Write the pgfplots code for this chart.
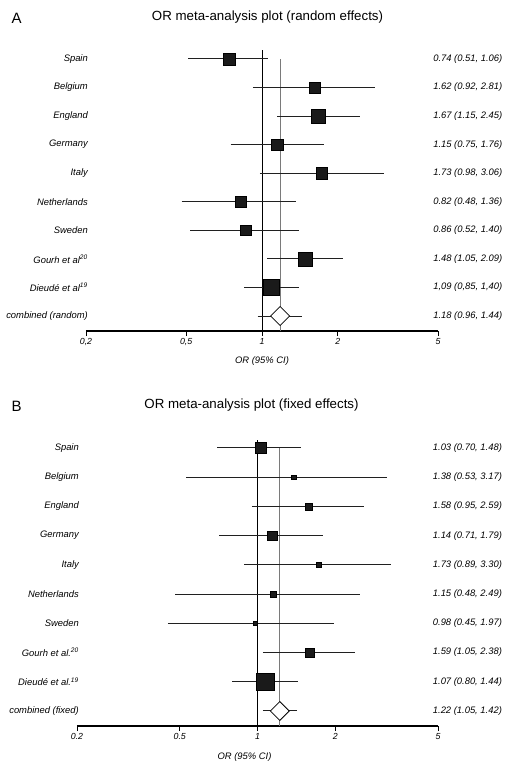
\documentclass[border=0pt]{standalone}
\usepackage{pgfplots}
\pgfplotsset{compat=1.18}
\usepackage{pgfplotstable}
\usepackage{fontspec}
\setmainfont{Liberation Sans}
\definecolor{sq}{HTML}{1A1A1A}
\definecolor{refgray}{HTML}{7A7A7A}
\definecolor{cil}{HTML}{202020}

\pgfplotstableread[col sep=semicolon]{
y;or;lo;hi;sz;left;right
10;0.74;0.51;1.06;6.2;Spain;0.74 (0.51, 1.06)
9;1.62;0.92;2.81;5.3;Belgium;1.62 (0.92, 2.81)
8;1.67;1.15;2.45;6.8;England;1.67 (1.15, 2.45)
7;1.15;0.75;1.76;5.9;Germany;1.15 (0.75, 1.76)
6;1.73;0.98;3.06;5.6;Italy;1.73 (0.98, 3.06)
5;0.82;0.48;1.36;5.5;Netherlands;0.82 (0.48, 1.36)
4;0.86;0.52;1.40;5.3;Sweden;0.86 (0.52, 1.40)
3;1.48;1.05;2.09;7.0;Gourh et al\textsuperscript{20};1.48 (1.05, 2.09)
2;1.09;0.85;1.40;8.2;Dieudé et al\textsuperscript{19};1,09 (0,85, 1,40)
1;1.18;0.96;1.44;6.7;combined (random);1.18 (0.96, 1.44)
}\tabA

\pgfplotstableread[col sep=semicolon]{
y;or;lo;hi;sz;left;right
10;1.03;0.70;1.48;5.8;Spain;1.03 (0.70, 1.48)
9;1.38;0.53;3.17;2.4;Belgium;1.38 (0.53, 3.17)
8;1.58;0.95;2.59;3.6;England;1.58 (0.95, 2.59)
7;1.14;0.71;1.79;4.6;Germany;1.14 (0.71, 1.79)
6;1.73;0.89;3.30;2.7;Italy;1.73 (0.89, 3.30)
5;1.15;0.48;2.49;2.8;Netherlands;1.15 (0.48, 2.49)
4;0.98;0.45;1.97;2.4;Sweden;0.98 (0.45, 1.97)
3;1.59;1.05;2.38;4.5;Gourh et al.\textsuperscript{20};1.59 (1.05, 2.38)
2;1.07;0.80;1.44;8.8;Dieudé et al.\textsuperscript{19};1.07 (0.80, 1.44)
1;1.22;1.05;1.42;6.7;combined (fixed);1.22 (1.05, 1.42)
}\tabB

\newcommand{\lblfont}{\itshape\fontsize{9.4}{11}\selectfont}

\begin{document}
\begin{tikzpicture}
\path[use as bounding box] (0pt,0pt) rectangle (511pt,-773pt);

% ---------------- Panel A ----------------
\begin{axis}[at={(86pt,-331pt)}, anchor=south west,
  width=352pt, height=281pt, ymin=0.475, ymax=10.315,
  scale only axis, clip=false,
  xmode=log, xmin=0.2, xmax=5,
  axis x line*=bottom, axis y line=none,
  xtick={0.2,0.5,1,2,5}, minor xtick={},
  xtick align=outside, major tick length=5pt,
  every tick/.style={black, line width=0.9pt},
  x axis line style={line width=1.1pt, -},
  xticklabel style={font=\itshape\fontsize{8.8}{10}\selectfont, inner sep=2pt},
  xticklabels={{0,2},{0,5},1,2,5},
  xlabel={OR (95\% CI)},
  xlabel style={font=\lblfont, at={(axis description cs:0.5,0)}, anchor=center, yshift=-30pt},
  ytick=\empty]
\addplot[black, line width=1pt] coordinates {(1,0.475) (1,10.315)};
\addplot[refgray, line width=1pt] coordinates {(1.18,0.475) (1.18,10)};
\addplot[cil, line width=1pt] coordinates {(0.51,10) (1.06,10)};
\addplot[cil, line width=1pt] coordinates {(0.92,9) (2.81,9)};
\addplot[cil, line width=1pt] coordinates {(1.15,8) (2.45,8)};
\addplot[cil, line width=1pt] coordinates {(0.75,7) (1.76,7)};
\addplot[cil, line width=1pt] coordinates {(0.98,6) (3.06,6)};
\addplot[cil, line width=1pt] coordinates {(0.48,5) (1.36,5)};
\addplot[cil, line width=1pt] coordinates {(0.52,4) (1.40,4)};
\addplot[cil, line width=1pt] coordinates {(1.05,3) (2.09,3)};
\addplot[cil, line width=1pt] coordinates {(0.85,2) (1.40,2)};
\addplot[cil, line width=1pt] coordinates {(0.96,1) (1.44,1)};
\addplot[scatter, only marks, mark=square*, point meta=y,
    scatter/use mapped color={draw=none, fill=sq},
    visualization depends on={\thisrow{sz} \as \msz},
    scatter/@pre marker code/.append style={/tikz/mark size=\msz},
    skip coords between index={9}{10}] table[x=or, y=y] {\tabA};
\addplot[only marks, mark=square*, mark size=6.7pt,
  mark options={rotate=45, fill=white, draw=black, line width=0.8pt}] coordinates {(1.18,1)};
\addplot[draw=none, mark=none, nodes near coords, point meta=explicit symbolic,
    nodes near coords style={anchor=east, inner sep=0pt, xshift=2pt, font=\lblfont}]
    table[x expr=0.2, y=y, meta=left] {\tabA};
\addplot[draw=none, mark=none, nodes near coords, point meta=explicit symbolic,
    nodes near coords style={anchor=west, inner sep=0pt, font=\lblfont}]
    table[x expr=4.78, y=y, meta=right] {\tabA};
\end{axis}

% ---------------- Panel B ----------------
\begin{axis}[at={(77pt,-726pt)}, anchor=south west,
  width=361pt, height=286pt, ymin=0.486, ymax=10.27,
  scale only axis, clip=false,
  xmode=log, xmin=0.2, xmax=5,
  axis x line*=bottom, axis y line=none,
  xtick={0.2,0.5,1,2,5}, minor xtick={},
  xtick align=outside, major tick length=5pt,
  every tick/.style={black, line width=0.9pt},
  x axis line style={line width=1.1pt, -},
  xticklabel style={font=\itshape\fontsize{8.8}{10}\selectfont, inner sep=2pt},
  xticklabels={0.2,0.5,1,2,5},
  xlabel={OR (95\% CI)},
  xlabel style={font=\lblfont, at={(axis description cs:0.5,0)}, anchor=center, yshift=-31pt, xshift=-13pt},
  ytick=\empty]
\addplot[black, line width=1pt] coordinates {(1,0.486) (1,10.27)};
\addplot[refgray, line width=1pt] coordinates {(1.22,0.486) (1.22,10)};
\addplot[cil, line width=1pt] coordinates {(0.70,10) (1.48,10)};
\addplot[cil, line width=1pt] coordinates {(0.53,9) (3.17,9)};
\addplot[cil, line width=1pt] coordinates {(0.95,8) (2.59,8)};
\addplot[cil, line width=1pt] coordinates {(0.71,7) (1.79,7)};
\addplot[cil, line width=1pt] coordinates {(0.89,6) (3.30,6)};
\addplot[cil, line width=1pt] coordinates {(0.48,5) (2.49,5)};
\addplot[cil, line width=1pt] coordinates {(0.45,4) (1.97,4)};
\addplot[cil, line width=1pt] coordinates {(1.05,3) (2.38,3)};
\addplot[cil, line width=1pt] coordinates {(0.80,2) (1.44,2)};
\addplot[cil, line width=1pt] coordinates {(1.05,1) (1.42,1)};
\addplot[scatter, only marks, mark=square*, point meta=y,
    scatter/use mapped color={draw=none, fill=sq},
    visualization depends on={\thisrow{sz} \as \msz},
    scatter/@pre marker code/.append style={/tikz/mark size=\msz},
    skip coords between index={9}{10}] table[x=or, y=y] {\tabB};
\addplot[only marks, mark=square*, mark size=6.7pt,
  mark options={rotate=45, fill=white, draw=black, line width=0.8pt}] coordinates {(1.22,1)};
\addplot[draw=none, mark=none, nodes near coords, point meta=explicit symbolic,
    nodes near coords style={anchor=east, inner sep=0pt, xshift=2pt, font=\lblfont}]
    table[x expr=0.2, y=y, meta=left] {\tabB};
\addplot[draw=none, mark=none, nodes near coords, point meta=explicit symbolic,
    nodes near coords style={anchor=west, inner sep=0pt, font=\lblfont}]
    table[x expr=4.77, y=y, meta=right] {\tabB};
\end{axis}

% titles and panel letters
\node[anchor=base, font=\fontsize{13.3}{15}\selectfont] at (267.5pt,-21pt) {OR meta-analysis plot (random effects)};
\node[anchor=base west, font=\fontsize{15}{18}\selectfont] at (8pt,-24pt) {A};
\node[anchor=base, font=\fontsize{13.3}{15}\selectfont] at (251.5pt,-408pt) {OR meta-analysis plot (fixed effects)};
\node[anchor=base west, font=\fontsize{15}{18}\selectfont] at (8pt,-411pt) {B};
\end{tikzpicture}
\end{document}
